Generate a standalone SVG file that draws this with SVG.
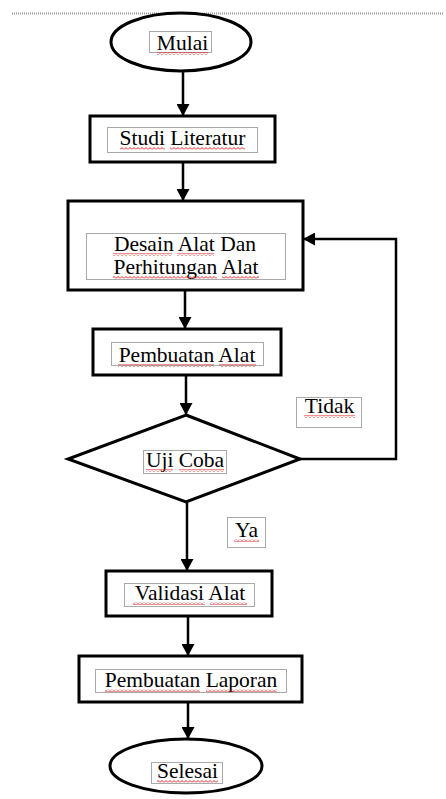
<svg xmlns="http://www.w3.org/2000/svg" width="446" height="799" viewBox="0 0 446 799">
<style>
.shape{fill:#fff;stroke:#000;stroke-width:3}
.conn{fill:none;stroke:#000;stroke-width:2.5}
.tbox{fill:none;stroke:#555;stroke-width:1;stroke-dasharray:1 1}
.lbl{font-family:"Liberation Serif","Times New Roman",serif;font-size:21.5px;fill:#000;text-anchor:middle}
.wave{fill:url(#wave)}
</style>
<defs>
<marker id="arr" markerUnits="userSpaceOnUse" markerWidth="13" markerHeight="13" refX="11" refY="6.5" orient="auto">
<path d="M0,0 L12,6.5 L0,13 Z" fill="#000"/>
</marker>
<pattern id="wave" width="4" height="3" patternUnits="userSpaceOnUse">
<path d="M0,2.5 L2,0.5 L4,2.5" fill="none" stroke="#e02020" stroke-width="1"/>
</pattern>
</defs>
<rect width="446" height="799" fill="#fff"/>
<line x1="12" y1="13.5" x2="443" y2="13.5" stroke="#999" stroke-width="2" stroke-dasharray="1 1"/>

<g id="connectors">
<line class="conn" x1="183" y1="72" x2="183" y2="115" marker-end="url(#arr)"/>
<line class="conn" x1="183" y1="162" x2="183" y2="200" marker-end="url(#arr)"/>
<line class="conn" x1="185" y1="290" x2="185" y2="328" marker-end="url(#arr)"/>
<line class="conn" x1="186" y1="375" x2="186" y2="414" marker-end="url(#arr)"/>
<line class="conn" x1="187" y1="502" x2="187" y2="570" marker-end="url(#arr)"/>
<line class="conn" x1="188" y1="616" x2="188" y2="655" marker-end="url(#arr)"/>
<line class="conn" x1="188" y1="702" x2="188" y2="738" marker-end="url(#arr)"/>
<polyline class="conn" points="300,459 396,459 396,239 304,239" marker-end="url(#arr)"/>
</g>

<g id="mulai">
<ellipse class="shape" cx="181" cy="42" rx="70" ry="29" stroke-width="3.5"/>
<rect class="tbox" x="149.5" y="31.5" width="62" height="21"/>
<text class="lbl" x="182.5" y="50">Mulai</text>
<rect class="wave" x="157" y="52" width="51" height="3"/>
</g>

<g id="studi">
<rect class="shape" x="90" y="116" width="185" height="46"/>
<rect class="tbox" x="107.5" y="127.5" width="150" height="25"/>
<text class="lbl" x="182.5" y="145">Studi Literatur</text>
<rect class="wave" x="120" y="147" width="45" height="3"/>
<rect class="wave" x="170" y="147" width="75" height="3"/>
</g>

<g id="desain">
<rect class="shape" x="68" y="201" width="235" height="89"/>
<rect class="tbox" x="86.5" y="233.5" width="199" height="46"/>
<text class="lbl" x="185" y="251">Desain Alat Dan</text>
<text class="lbl" x="186" y="274">Perhitungan Alat</text>
<rect class="wave" x="113" y="253" width="59" height="3"/>
<rect class="wave" x="177" y="253" width="37" height="3"/>
<rect class="wave" x="113" y="276" width="104" height="3"/>
<rect class="wave" x="222" y="276" width="37" height="3"/>
</g>

<g id="pembuatan-alat">
<rect class="shape" x="93" y="329" width="188" height="46"/>
<rect class="tbox" x="111.5" y="342.5" width="152" height="23"/>
<text class="lbl" x="187" y="362">Pembuatan Alat</text>
<rect class="wave" x="118" y="364" width="96" height="3"/>
<rect class="wave" x="219" y="364" width="37" height="3"/>
</g>

<g id="uji-coba">
<polygon class="shape" points="186,415 300,459 186,502 68,459" stroke-width="2.5"/>
<rect class="tbox" x="143.5" y="450.5" width="83" height="23"/>
<text class="lbl" x="185" y="467">Uji Coba</text>
<rect class="wave" x="146" y="469" width="27" height="3"/>
<rect class="wave" x="179" y="469" width="45" height="3"/>
</g>

<g id="tidak">
<rect class="tbox" x="296.5" y="397.5" width="65" height="30"/>
<text class="lbl" x="329.5" y="413">Tidak</text>
<rect class="wave" x="304" y="415" width="51" height="3"/>
</g>

<g id="ya">
<rect class="tbox" x="227.5" y="517.5" width="38" height="30"/>
<text class="lbl" x="246.5" y="537">Ya</text>
<rect class="wave" x="234" y="539" width="25" height="3"/>
</g>

<g id="validasi">
<rect class="shape" x="106" y="571" width="166" height="45"/>
<rect class="tbox" x="124.5" y="583.5" width="130" height="23"/>
<text class="lbl" x="190" y="600">Validasi Alat</text>
<rect class="wave" x="133" y="602" width="72" height="3"/>
<rect class="wave" x="210" y="602" width="37" height="3"/>
</g>

<g id="laporan">
<rect class="shape" x="79" y="656" width="223" height="46"/>
<rect class="tbox" x="95.5" y="669.5" width="191" height="23"/>
<text class="lbl" x="191" y="687">Pembuatan Laporan</text>
<rect class="wave" x="105" y="689" width="95" height="3"/>
<rect class="wave" x="206" y="689" width="71" height="3"/>
</g>

<g id="selesai">
<ellipse class="shape" cx="186" cy="766" rx="76" ry="27"/>
<rect class="tbox" x="151.5" y="762.5" width="71" height="21"/>
<text class="lbl" x="187.5" y="778">Selesai</text>
<rect class="wave" x="157" y="780" width="61" height="3"/>
</g>
</svg>
